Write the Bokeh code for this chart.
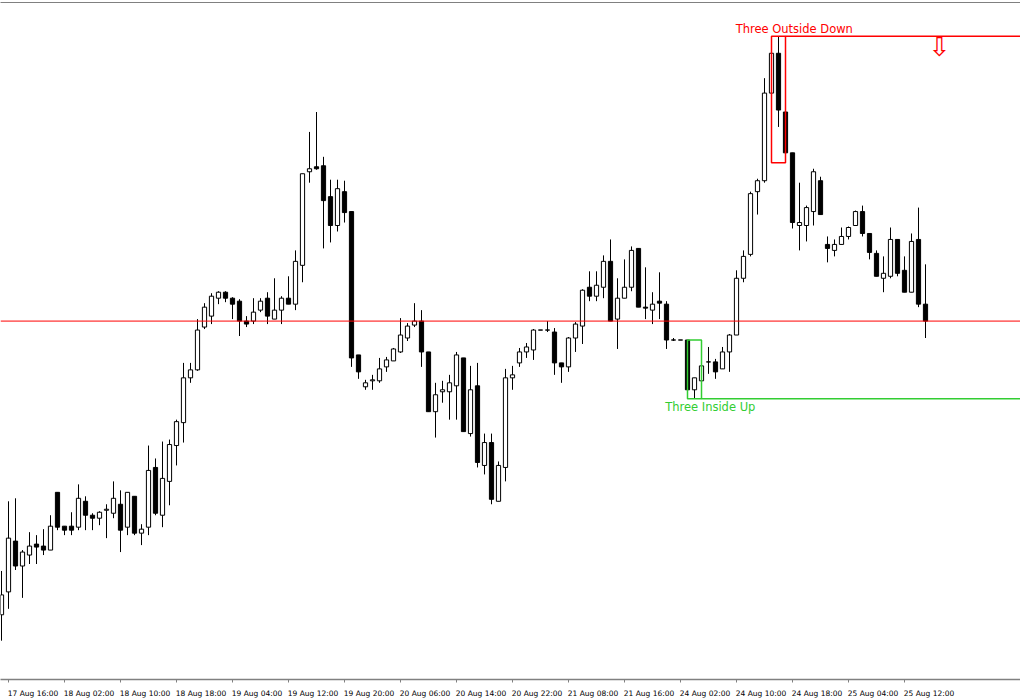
from bokeh.plotting import figure
from bokeh.models import ColumnDataSource, Range1d, LinearAxis, FixedTicker, Span
from bokeh.core.properties import value
from bokeh.embed import file_html
from bokeh.resources import INLINE

# EURUSD H1 bars, 17 Aug 15:00 .. 25 Aug 15:00
open_ = [1.1083, 1.1106, 1.1157, 1.1132, 1.1143, 1.1154, 1.1152, 1.1148, 1.1206, 1.1172,
         1.1172, 1.1171, 1.1197, 1.1183, 1.1180, 1.1188, 1.1185, 1.1194, 1.1171, 1.1202,
         1.1165, 1.1171, 1.1231, 1.1183, 1.1217, 1.1253, 1.1276, 1.1321, 1.1329, 1.1372,
         1.1383, 1.1401, 1.1407, 1.1401, 1.1398, 1.1378, 1.1378, 1.1389, 1.1401, 1.1380,
         1.1389, 1.1401, 1.1395, 1.1434, 1.1528, 1.1533, 1.1534, 1.1503, 1.1474, 1.1508,
         1.1488, 1.1344, 1.1312, 1.1318, 1.1318, 1.1332, 1.1338, 1.1347, 1.1361, 1.1374,
         1.1378, 1.1347, 1.1287, 1.1307, 1.1307, 1.1313, 1.1341, 1.1265, 1.1313, 1.1233,
         1.1256, 1.1197, 1.1231, 1.1321, 1.1336, 1.1347, 1.1349, 1.1369, 1.1369, 1.1367,
         1.1336, 1.1332, 1.1361, 1.1373, 1.1412, 1.1403, 1.1412, 1.1438, 1.1380, 1.1401,
         1.1412, 1.1451, 1.1392, 1.1389, 1.1398, 1.1395, 1.1359, 1.1359, 1.1359, 1.1309,
         1.1318, 1.1337, 1.1337, 1.1330, 1.1347, 1.1364, 1.1421, 1.1445, 1.1508, 1.1519,
         1.1607, 1.1647, 1.1588, 1.1547, 1.1474, 1.1474, 1.1488, 1.1519, 1.1455, 1.1449,
         1.1455, 1.1463, 1.1474, 1.1488, 1.1466, 1.1446, 1.1421, 1.1423, 1.1460, 1.1429,
         1.1407, 1.1460, 1.1395]
high = [1.1127, 1.1197, 1.1200, 1.1148, 1.1166, 1.1163, 1.1169, 1.1183, 1.1206, 1.1172,
        1.1186, 1.1214, 1.1202, 1.1185, 1.1187, 1.1194, 1.1217, 1.1208, 1.1206, 1.1202,
        1.1174, 1.1253, 1.1240, 1.1257, 1.1259, 1.1279, 1.1336, 1.1336, 1.1380, 1.1396,
        1.1406, 1.1408, 1.1408, 1.1402, 1.1400, 1.1383, 1.1401, 1.1401, 1.1407, 1.1421,
        1.1403, 1.1423, 1.1449, 1.1526, 1.1568, 1.1588, 1.1543, 1.1520, 1.1520, 1.1519,
        1.1488, 1.1344, 1.1319, 1.1324, 1.1341, 1.1342, 1.1351, 1.1381, 1.1376, 1.1396,
        1.1389, 1.1347, 1.1316, 1.1318, 1.1324, 1.1347, 1.1341, 1.1333, 1.1336, 1.1265,
        1.1265, 1.1237, 1.1330, 1.1333, 1.1351, 1.1356, 1.1370, 1.1369, 1.1378, 1.1371,
        1.1336, 1.1362, 1.1377, 1.1410, 1.1428, 1.1428, 1.1444, 1.1460, 1.1421, 1.1440,
        1.1453, 1.1451, 1.1432, 1.1407, 1.1427, 1.1398, 1.1361, 1.1359, 1.1359, 1.1321,
        1.1352, 1.1352, 1.1340, 1.1352, 1.1365, 1.1429, 1.1449, 1.1508, 1.1521, 1.1622,
        1.1664, 1.1664, 1.1597, 1.1547, 1.1517, 1.1494, 1.1531, 1.1523, 1.1463, 1.1460,
        1.1472, 1.1473, 1.1489, 1.1494, 1.1466, 1.1449, 1.1443, 1.1472, 1.1460, 1.1443,
        1.1466, 1.1492, 1.1435]
low = [1.1057, 1.1089, 1.1128, 1.1100, 1.1134, 1.1134, 1.1143, 1.1148, 1.1168, 1.1163,
       1.1163, 1.1168, 1.1168, 1.1168, 1.1173, 1.1160, 1.1180, 1.1146, 1.1163, 1.1163,
       1.1153, 1.1163, 1.1183, 1.1171, 1.1193, 1.1233, 1.1256, 1.1316, 1.1328, 1.1370,
       1.1375, 1.1395, 1.1397, 1.1380, 1.1363, 1.1372, 1.1375, 1.1387, 1.1375, 1.1380,
       1.1375, 1.1395, 1.1389, 1.1417, 1.1517, 1.1530, 1.1451, 1.1457, 1.1468, 1.1477,
       1.1332, 1.1320, 1.1309, 1.1309, 1.1316, 1.1327, 1.1338, 1.1346, 1.1358, 1.1372,
       1.1332, 1.1287, 1.1261, 1.1296, 1.1279, 1.1279, 1.1267, 1.1262, 1.1231, 1.1224,
       1.1194, 1.1197, 1.1217, 1.1309, 1.1332, 1.1341, 1.1339, 1.1369, 1.1367, 1.1324,
       1.1316, 1.1327, 1.1347, 1.1355, 1.1398, 1.1398, 1.1401, 1.1378, 1.1350, 1.1401,
       1.1408, 1.1392, 1.1380, 1.1375, 1.1380, 1.1350, 1.1358, 1.1359, 1.1300, 1.1300,
       1.1309, 1.1325, 1.1320, 1.1330, 1.1327, 1.1364, 1.1417, 1.1443, 1.1485, 1.1517,
       1.1584, 1.1573, 1.1537, 1.1471, 1.1449, 1.1458, 1.1474, 1.1485, 1.1437, 1.1443,
       1.1455, 1.1460, 1.1474, 1.1463, 1.1440, 1.1423, 1.1407, 1.1421, 1.1423, 1.1407,
       1.1407, 1.1392, 1.1361]
close = [1.1103, 1.1160, 1.1132, 1.1146, 1.1152, 1.1151, 1.1148, 1.1172, 1.1171, 1.1168,
         1.1168, 1.1200, 1.1183, 1.1180, 1.1186, 1.1189, 1.1200, 1.1168, 1.1206, 1.1165,
         1.1169, 1.1228, 1.1185, 1.1220, 1.1254, 1.1277, 1.1321, 1.1329, 1.1369, 1.1392,
         1.1403, 1.1407, 1.1401, 1.1395, 1.1378, 1.1375, 1.1387, 1.1398, 1.1383, 1.1389,
         1.1401, 1.1395, 1.1438, 1.1526, 1.1531, 1.1531, 1.1499, 1.1474, 1.1511, 1.1487,
         1.1341, 1.1327, 1.1316, 1.1319, 1.1330, 1.1339, 1.1350, 1.1364, 1.1373, 1.1378,
         1.1347, 1.1287, 1.1304, 1.1309, 1.1316, 1.1344, 1.1267, 1.1309, 1.1236, 1.1256,
         1.1199, 1.1233, 1.1321, 1.1324, 1.1347, 1.1352, 1.1369, 1.1369, 1.1369, 1.1336,
         1.1332, 1.1361, 1.1375, 1.1409, 1.1403, 1.1414, 1.1438, 1.1378, 1.1401, 1.1412,
         1.1449, 1.1392, 1.1391, 1.1395, 1.1396, 1.1359, 1.1359, 1.1359, 1.1309, 1.1321,
         1.1333, 1.1337, 1.1327, 1.1347, 1.1364, 1.1421, 1.1443, 1.1506, 1.1519, 1.1607,
         1.1647, 1.1590, 1.1547, 1.1477, 1.1477, 1.1492, 1.1528, 1.1485, 1.1451, 1.1455,
         1.1463, 1.1472, 1.1488, 1.1466, 1.1447, 1.1423, 1.1426, 1.1460, 1.1426, 1.1407,
         1.1458, 1.1395, 1.1378]

tick_labels = ["17 Aug 16:00", "18 Aug 02:00", "18 Aug 10:00", "18 Aug 18:00",
               "19 Aug 04:00", "19 Aug 12:00", "19 Aug 20:00", "20 Aug 06:00",
               "20 Aug 14:00", "20 Aug 22:00", "21 Aug 08:00", "21 Aug 16:00",
               "24 Aug 02:00", "24 Aug 10:00", "24 Aug 18:00", "25 Aug 04:00",
               "25 Aug 12:00"]
tick_every = 8  # bars between time labels

# candle patterns found (first bar of the 3-bar pattern)
pattern_names = ["Three Inside Up", "Three Outside Down"]
pattern_bars = [98, 110]
pattern_colors = ["#32CD32", "#FF0000"]
signal_bar = 134  # sell arrow

n = len(close)
idx = list(range(n))
src = ColumnDataSource(dict(
    x=idx, high=high, low=low,
    top=[max(o, c) for o, c in zip(open_, close)],
    bottom=[min(o, c) for o, c in zip(open_, close)],
    fill=["white" if c >= o else "black" for o, c in zip(open_, close)],
))

# 7 px per bar, 10000 px per price unit
p = figure(width=1020, height=700, output_backend="svg", toolbar_location=None,
           x_axis_location=None, y_axis_location=None,
           x_range=Range1d(-1 / 7, 1019 / 7), y_range=Range1d(1.1018, 1.1698),
           min_border_left=0, min_border_right=0, min_border_top=2,
           min_border_bottom=18)
p.outline_line_color = None
p.grid.grid_line_color = None
p.background_fill_color = "white"
p.border_fill_color = "white"

p.segment("x", "low", "x", "high", source=src, line_color="black", line_width=1)
p.vbar(x="x", width=0.6, top="top", bottom="bottom", fill_color="fill",
       line_color="black", line_width=1, source=src)

# bid line
p.add_layout(Span(location=close[-1], dimension="width", line_color="#FF0000",
                  line_width=1))

for name, i0, col in zip(pattern_names, pattern_bars, pattern_colors):
    hi = max(high[i0:i0 + 3])
    lo = min(low[i0:i0 + 3])
    up = name.endswith("Up")
    level = lo if up else hi
    p.quad(left=[i0], right=[i0 + 2], top=[hi], bottom=[lo], fill_color=None,
           line_color=col, line_width=1.5)
    p.ray(x=[i0 + 2], y=[level], length=0, angle=0, line_color=col, line_width=1.5)
    p.text(x=[i0 + 3.25], y=[level], text=[name], text_align="center",
           text_baseline="top" if up else "bottom",
           y_offset=1 if up else 0, text_color=col,
           text_font=value("DejaVu Sans"), text_font_size="11.5px")
    if not up:
        p.text(x=[signal_bar], y=[hi], text=["\u21e9"], text_align="center",
               text_baseline="top", y_offset=-4, text_color=col,
               text_font=value("DejaVu Sans"), text_font_size="26px")

# tick marks on the bars, labels drawn to the right of each mark
tick_pos = [1 + tick_every * k for k in range(len(tick_labels))]
lab_pos = [t + 3.5 for t in tick_pos]

tick_axis = LinearAxis(ticker=FixedTicker(ticks=tick_pos), major_label_text_font_size="1px",
                       major_label_text_color=None, major_label_standoff=0,
                       axis_line_color="#808080", axis_line_width=1.5,
                       major_tick_line_color="#808080", major_tick_in=0, major_tick_out=3,
                       minor_tick_line_color=None)
p.add_layout(tick_axis, "below")

label_axis = LinearAxis(ticker=FixedTicker(ticks=lab_pos),
                        major_label_overrides=dict(zip(lab_pos, tick_labels)),
                        major_label_standoff=0, axis_line_color=None,
                        major_tick_line_color=None, minor_tick_line_color=None,
                        major_label_text_font="DejaVu Sans",
                        major_label_text_font_size="7.5px",
                        major_label_text_color="black")
p.add_layout(label_axis, "below")

top_axis = LinearAxis(ticker=FixedTicker(ticks=[]), major_label_text_font_size="1px",
                      major_label_text_color=None,
                      axis_line_color="#808080", major_tick_line_color=None,
                      minor_tick_line_color=None)
p.add_layout(top_axis, "above")

open("out.html", "w").write(file_html(p, INLINE))
